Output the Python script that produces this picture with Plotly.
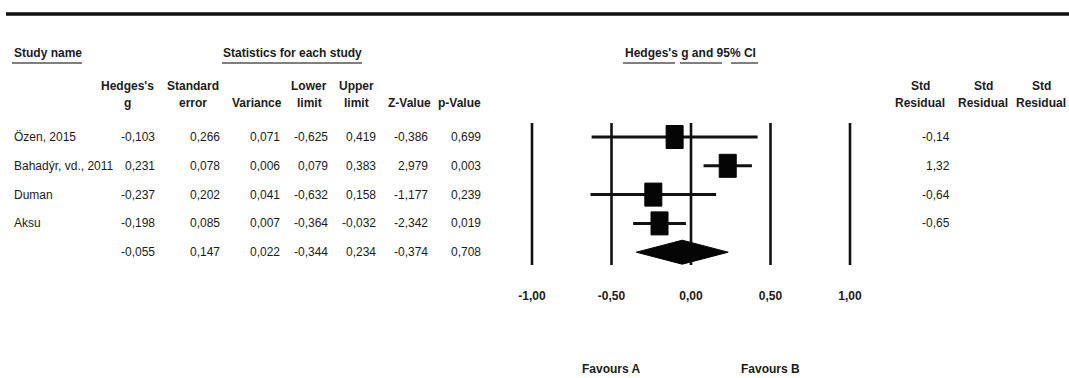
import plotly.graph_objects as go

# ---------------- data ----------------
study_names = ["Özen, 2015", "Bahadýr, vd., 2011", "Duman", "Aksu"]
hedges_g = [-0.103, 0.231, -0.237, -0.198]
std_error = [0.266, 0.078, 0.202, 0.085]
variance = [0.071, 0.006, 0.041, 0.007]
lower_limit = [-0.625, 0.079, -0.632, -0.364]
upper_limit = [0.419, 0.383, 0.158, -0.032]
z_value = [-0.386, 2.979, -1.177, -2.342]
p_value = [0.699, 0.003, 0.239, 0.019]
std_residual = [-0.14, 1.32, -0.64, -0.65]

summary_row = {"g": -0.055, "se": 0.147, "var": 0.022, "lower": -0.344,
               "upper": 0.234, "z": -0.374, "p": 0.708}

ref_lines = [-1.0, -0.5, 0.0, 0.5, 1.0]
tick_labels = ["-1,00", "-0,50", "0,00", "0,50", "1,00"]
favour_labels = ["Favours A", "Favours B"]
favour_pos = [-0.5, 0.5]

# ---------------- layout constants (pixels) ----------------
W, H = 1069, 378
PX0, PXU = 691.0, 159.0          # pixel of x=0, pixels per unit
XR = (-1.2, 1.2)
row_y0, row_dy = 137.0, 28.8
FONT = "Liberation Sans, Arial, sans-serif"
TXT = "#1b1b1b"


def fmt(v, d=3):
    return f"{v:.{d}f}".replace(".", ",")


def row_y(i):
    return row_y0 + i * row_dy


fig = go.Figure()
annotations = []
shapes = []


def add_text(text, px, py, anchor="left", bold=False, size=12):
    t = f"<b>{text}</b>" if bold else text
    annotations.append(dict(text=t, x=px / W, y=py, xref="paper", yref="y",
                            xanchor=anchor, yanchor="middle", showarrow=False,
                            font=dict(family=FONT, size=size, color=TXT)))


def add_hline(x0, x1, y, width=1.5, color="#555"):
    shapes.append(dict(type="line", xref="paper", yref="y", x0=x0 / W, x1=x1 / W,
                       y0=y, y1=y, line=dict(color=color, width=width)))


# top rule
add_hline(6, W, 14, width=3.5, color="#111")

# section headers
add_text("Study name", 12, 53, bold=True)
add_hline(12, 82, 63)
add_text("Statistics for each study", 292, 53, anchor="center", bold=True)
add_hline(222, 362, 63)
add_text("Hedges's g and 95% CI", 690, 53, anchor="center", bold=True)
for a, b in [(623, 675), (680, 722), (731, 758)]:
    add_hline(a, b, 63)

# column headers
col_right = [157, 222, 282, 330, 378, 430, 483]
col_head = [("Hedges's", "g", 127), ("Standard", "error", 193), ("", "Variance", 257),
            ("Lower", "limit", 309), ("Upper", "limit", 357), ("", "Z-Value", 409),
            ("", "p-Value", 459)]
for l1, l2, cx in col_head:
    if l1:
        add_text(l1, cx, 86, anchor="center", bold=True)
    add_text(l2, cx, 103, anchor="center", bold=True)

for cx in [920, 983, 1041]:
    add_text("Std", cx, 86, anchor="center", bold=True)
    add_text("Residual", cx, 103, anchor="center", bold=True)

# table rows
for i, name in enumerate(study_names):
    y = row_y(i)
    add_text(name, 12, y)
    vals = [hedges_g[i], std_error[i], variance[i], lower_limit[i],
            upper_limit[i], z_value[i], p_value[i]]
    for v, rx in zip(vals, col_right):
        add_text(fmt(v), rx, y, anchor="right")
    add_text(fmt(std_residual[i], 2), 952, y, anchor="right")

ys = row_y(len(study_names))
svals = [summary_row[k] for k in ["g", "se", "var", "lower", "upper", "z", "p"]]
for v, rx in zip(svals, col_right):
    add_text(fmt(v), rx, ys, anchor="right")

# ---------------- forest plot ----------------
line_top, line_bot = 123, 265
for v in ref_lines:
    fig.add_trace(go.Scatter(x=[v, v], y=[line_top, line_bot], mode="lines",
                             line=dict(color="#111", width=2.6),
                             hoverinfo="skip", showlegend=False))

box_hw = 8.5 / PXU
box_hh = 11.5
for i in range(len(study_names)):
    y = row_y(i)
    fig.add_trace(go.Scatter(x=[lower_limit[i], upper_limit[i]], y=[y, y], mode="lines",
                             line=dict(color="#111", width=3),
                             hoverinfo="skip", showlegend=False))
    shapes.append(dict(type="rect", xref="x", yref="y",
                       x0=hedges_g[i] - box_hw, x1=hedges_g[i] + box_hw,
                       y0=y - box_hh, y1=y + box_hh,
                       fillcolor="#050505", line=dict(color="#050505", width=1)))

dh = 12
fig.add_trace(go.Scatter(
    x=[summary_row["lower"], summary_row["g"], summary_row["upper"], summary_row["g"],
       summary_row["lower"]],
    y=[ys, ys - dh, ys, ys + dh, ys], mode="lines", fill="toself",
    fillcolor="#050505", line=dict(color="#050505", width=1),
    hoverinfo="skip", showlegend=False))

for lab, pos in zip(favour_labels, favour_pos):
    annotations.append(dict(text=f"<b>{lab}</b>", x=pos, y=369, xref="x", yref="y",
                            xanchor="center", yanchor="middle", showarrow=False,
                            font=dict(family=FONT, size=12, color=TXT)))

dom0 = (PX0 + XR[0] * PXU) / W
dom1 = (PX0 + XR[1] * PXU) / W

fig.update_layout(
    width=W, height=H,
    margin=dict(l=0, r=0, t=0, b=0),
    paper_bgcolor="white", plot_bgcolor="white",
    showlegend=False,
    xaxis=dict(domain=[dom0, dom1], range=list(XR), showgrid=False, zeroline=False,
               showline=False, ticks="", tickvals=ref_lines,
               ticktext=[f"<b>{t}</b>" for t in tick_labels],
               tickfont=dict(family=FONT, size=12, color=TXT),
               anchor="free", position=1 - 287 / H, fixedrange=True),
    yaxis=dict(domain=[0, 1], range=[H, 0], visible=False, fixedrange=True),
    annotations=annotations,
    shapes=shapes,
)

fig.write_html(
    "out.html",
    config={"displayModeBar": False, "staticPlot": True},
    post_script="document.body.style.margin='0';document.body.style.overflow='hidden';",
)
